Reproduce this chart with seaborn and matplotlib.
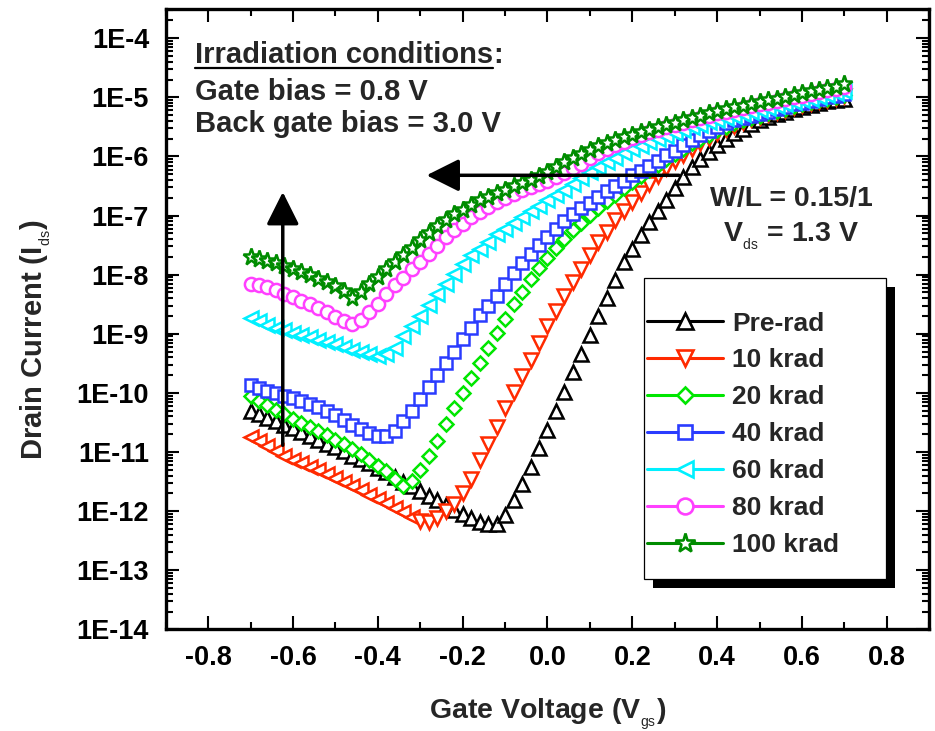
# Id-Vg curves of an SOI nMOSFET after irradiation, log scale, open markers.
import numpy as np
import pandas as pd
import seaborn as sns
import matplotlib
matplotlib.use("Agg")
import matplotlib.pyplot as plt
from matplotlib.lines import Line2D
from matplotlib.patches import Rectangle
from matplotlib.ticker import LogLocator, FuncFormatter, MultipleLocator, NullFormatter

# gate voltage sweep (V)
vgs = [-0.70, -0.68, -0.66, -0.64, -0.62, -0.60, -0.58, -0.56, -0.54, -0.52,
       -0.50, -0.48, -0.46, -0.44, -0.42, -0.40, -0.38, -0.36, -0.34, -0.32,
       -0.30, -0.28, -0.26, -0.24, -0.22, -0.20, -0.18, -0.16, -0.14, -0.12,
       -0.10, -0.08, -0.06, -0.04, -0.02, 0.00, 0.02, 0.04, 0.06, 0.08,
       0.10, 0.12, 0.14, 0.16, 0.18, 0.20, 0.22, 0.24, 0.26, 0.28,
       0.30, 0.32, 0.34, 0.36, 0.38, 0.40, 0.42, 0.44, 0.46, 0.48,
       0.50, 0.52, 0.54, 0.56, 0.58, 0.60, 0.62, 0.64, 0.66, 0.68, 0.70]

# log10 of drain current (A)
log_pre_rad = [-10.30, -10.36, -10.42, -10.48, -10.54, -10.60, -10.66, -10.73, -10.79, -10.86,
               -10.92, -10.99, -11.06, -11.12, -11.19, -11.27, -11.34, -11.42, -11.50, -11.58,
               -11.66, -11.74, -11.82, -11.90, -11.98, -12.05, -12.12, -12.18, -12.21, -12.21,
               -12.06, -11.82, -11.54, -11.25, -10.94, -10.63, -10.30, -9.98, -9.64, -9.34,
               -9.02, -8.70, -8.40, -8.09, -7.79, -7.56, -7.33, -7.11, -6.92, -6.73,
               -6.53, -6.35, -6.18, -6.05, -5.93, -5.81, -5.70, -5.61, -5.53, -5.45,
               -5.38, -5.33, -5.28, -5.24, -5.20, -5.16, -5.13, -5.10, -5.07, -5.04, -5.02]
log_10krad = [-10.74, -10.82, -10.90, -10.99, -11.06, -11.13, -11.19, -11.25, -11.31, -11.37,
              -11.44, -11.51, -11.58, -11.65, -11.72, -11.80, -11.87, -11.94, -12.02, -12.10,
              -12.16, -12.19, -12.12, -12.00, -11.88, -11.69, -11.45, -11.14, -10.87, -10.57,
              -10.26, -9.98, -9.71, -9.44, -9.16, -8.87, -8.61, -8.36, -8.13, -7.90,
              -7.66, -7.45, -7.27, -7.08, -6.92, -6.77, -6.62, -6.47, -6.33, -6.20,
              -6.08, -5.97, -5.87, -5.78, -5.69, -5.61, -5.54, -5.48, -5.42, -5.37,
              -5.33, -5.29, -5.25, -5.21, -5.17, -5.13, -5.10, -5.07, -5.04, -5.01, -4.98]
log_20krad = [-10.06, -10.13, -10.21, -10.29, -10.36, -10.44, -10.51, -10.58, -10.65, -10.72,
              -10.79, -10.87, -10.95, -11.04, -11.14, -11.23, -11.32, -11.46, -11.58, -11.49,
              -11.30, -11.06, -10.81, -10.53, -10.26, -10.01, -9.75, -9.50, -9.24, -8.98,
              -8.75, -8.50, -8.29, -8.08, -7.88, -7.71, -7.55, -7.40, -7.25, -7.12,
              -6.99, -6.87, -6.76, -6.65, -6.54, -6.43, -6.33, -6.23, -6.14, -6.05,
              -5.96, -5.87, -5.78, -5.70, -5.63, -5.56, -5.50, -5.44, -5.39, -5.35,
              -5.31, -5.27, -5.23, -5.19, -5.15, -5.11, -5.08, -5.05, -5.02, -4.99, -4.96]
log_40krad = [-9.87, -9.91, -9.96, -10.01, -10.05, -10.09, -10.13, -10.18, -10.24, -10.31,
              -10.38, -10.46, -10.54, -10.61, -10.68, -10.73, -10.73, -10.65, -10.48, -10.31,
              -10.10, -9.90, -9.70, -9.50, -9.31, -9.08, -8.90, -8.68, -8.53, -8.36,
              -8.16, -7.97, -7.80, -7.65, -7.49, -7.36, -7.22, -7.09, -6.97, -6.88,
              -6.78, -6.68, -6.59, -6.50, -6.41, -6.32, -6.25, -6.16, -6.07, -5.98,
              -5.90, -5.81, -5.72, -5.64, -5.57, -5.50, -5.44, -5.39, -5.35, -5.31,
              -5.28, -5.24, -5.20, -5.16, -5.12, -5.09, -5.06, -5.03, -5.00, -4.97, -4.94]
log_60krad = [-8.73, -8.79, -8.85, -8.90, -8.94, -8.98, -9.02, -9.06, -9.10, -9.14,
              -9.18, -9.22, -9.27, -9.31, -9.35, -9.37, -9.34, -9.24, -9.04, -8.87,
              -8.70, -8.51, -8.33, -8.16, -7.99, -7.82, -7.67, -7.56, -7.44, -7.32,
              -7.23, -7.13, -7.03, -6.93, -6.83, -6.73, -6.65, -6.56, -6.46, -6.37,
              -6.27, -6.18, -6.10, -6.02, -5.95, -5.88, -5.82, -5.76, -5.71, -5.66,
              -5.61, -5.56, -5.51, -5.46, -5.42, -5.38, -5.35, -5.31, -5.28, -5.25,
              -5.22, -5.18, -5.15, -5.12, -5.08, -5.05, -5.02, -4.99, -4.96, -4.93, -4.90]
log_80krad = [-8.15, -8.17, -8.21, -8.26, -8.32, -8.38, -8.44, -8.50, -8.57, -8.64,
              -8.71, -8.78, -8.83, -8.76, -8.64, -8.49, -8.32, -8.18, -8.06, -7.91,
              -7.78, -7.65, -7.51, -7.37, -7.25, -7.14, -7.03, -6.94, -6.85, -6.77,
              -6.70, -6.63, -6.57, -6.52, -6.46, -6.41, -6.35, -6.28, -6.20, -6.12,
              -6.02, -5.95, -5.88, -5.81, -5.75, -5.69, -5.64, -5.59, -5.55, -5.51,
              -5.47, -5.43, -5.39, -5.35, -5.31, -5.27, -5.24, -5.21, -5.18, -5.15,
              -5.12, -5.09, -5.06, -5.03, -5.00, -4.97, -4.94, -4.91, -4.88, -4.86, -4.83]
log_100krad = [-7.70, -7.73, -7.77, -7.81, -7.85, -7.90, -7.95, -8.01, -8.07, -8.13,
               -8.20, -8.28, -8.39, -8.30, -8.16, -8.04, -7.91, -7.79, -7.67, -7.55,
               -7.42, -7.30, -7.18, -7.07, -6.98, -6.90, -6.82, -6.74, -6.68, -6.62,
               -6.56, -6.50, -6.45, -6.40, -6.33, -6.26, -6.18, -6.10, -6.03, -5.96,
               -5.89, -5.83, -5.77, -5.72, -5.67, -5.63, -5.59, -5.55, -5.51, -5.47,
               -5.43, -5.39, -5.35, -5.31, -5.27, -5.23, -5.20, -5.17, -5.14, -5.11,
               -5.08, -5.05, -5.02, -4.99, -4.96, -4.93, -4.90, -4.88, -4.85, -4.82, -4.78]

labels = ["Pre-rad", "10 krad", "20 krad", "40 krad", "60 krad", "80 krad", "100 krad"]
series = [log_pre_rad, log_10krad, log_20krad, log_40krad, log_60krad, log_80krad, log_100krad]

# styling
colors = ["#000000", "#ff2a00", "#00e600", "#2a3cff", "#00f0ff", "#ff40ff", "#008c00"]
markers = ["^", "v", "D", "s", "<", "o", "*"]
msizes = [10.0, 10.0, 7.0, 8.5, 10.0, 9.5, 12.5]
# in the original, the low-Vg part of these two curves was drawn with '<'
left_marker_below = {"10 krad": -0.31, "60 krad": -0.41}

sns.set_theme(style="ticks")
plt.rcParams["font.family"] = ["Liberation Sans", "DejaVu Sans"]
plt.rcParams.update({
    "font.weight": "bold",
    "axes.labelweight": "bold",
    "axes.unicode_minus": False,
    "mathtext.fontset": "custom",
    "mathtext.rm": "Liberation Sans:bold",
    "mathtext.bf": "Liberation Sans:bold",
    "mathtext.sf": "Liberation Sans:regular",
})

fig = plt.figure(figsize=(9.35, 7.31), dpi=100)
ax = fig.add_axes([0.1772, 0.1391, 0.8167, 0.849])

for name, logs, c, m, ms in zip(labels, series, colors, markers, msizes):
    df = pd.DataFrame({"Vgs": vgs, "Ids": 10.0 ** np.array(logs)})
    style = dict(color=c, linestyle="none", markersize=ms, markeredgewidth=1.8,
                 markerfacecolor="white", markeredgecolor=c)
    if name in left_marker_below:
        low = df["Vgs"] < left_marker_below[name]
        sns.lineplot(data=df[low], x="Vgs", y="Ids", marker="<", estimator=None,
                     ax=ax, legend=False, **style)
        sns.lineplot(data=df[~low], x="Vgs", y="Ids", marker=m, estimator=None,
                     ax=ax, legend=False, **style)
    else:
        sns.lineplot(data=df, x="Vgs", y="Ids", marker=m, estimator=None,
                     ax=ax, legend=False, **style)

ax.set_yscale("log")
ax.set_xlim(-0.9, 0.9)
ax.set_ylim(1e-14, 3.16e-4)

ax.xaxis.set_major_locator(MultipleLocator(0.2))
ax.xaxis.set_minor_locator(MultipleLocator(0.1))
ax.xaxis.set_major_formatter(FuncFormatter(lambda v, p: f"{round(v, 1) + 0.0:.1f}"))
ax.yaxis.set_major_locator(LogLocator(base=10, numticks=30))
ax.yaxis.set_minor_locator(LogLocator(base=10, subs=np.arange(2, 10), numticks=30))
ax.yaxis.set_major_formatter(FuncFormatter(lambda v, p: f"1E{int(round(np.log10(v)))}"))
ax.yaxis.set_minor_formatter(NullFormatter())

ax.tick_params(which="both", direction="in", top=True, right=True, width=1.5, colors="black")
ax.tick_params(which="major", length=9.5, labelsize=19.5)
ax.tick_params(which="minor", length=5)
ax.tick_params(axis="x", which="major", pad=11.5)
ax.tick_params(axis="y", which="major", pad=12)
for lab in ax.get_xticklabels() + ax.get_yticklabels():
    lab.set_fontweight("bold")
for sp in ax.spines.values():
    sp.set_linewidth(2.4)
    sp.set_color("black")

ax.set_xlabel("Gate Voltage (V$_{_{\\mathsf{gs}}}$)", fontsize=20.5, fontweight="bold", labelpad=18)
ax.set_ylabel("Drain Current (I$_{_{\\mathsf{ds}}}$)", fontsize=21, fontweight="bold", labelpad=17)
ax.yaxis.label.set_y(0.466)

# arrows
arrow_kw = dict(arrowstyle="-|>,head_length=2.0,head_width=1.0", mutation_scale=10,
                color="black", lw=2.5, shrinkA=0, shrinkB=0)
ax.annotate("", xy=(-0.285, 4.8e-7), xytext=(0.31, 4.8e-7), arrowprops=arrow_kw)
ax.annotate("", xy=(-0.624, 2.5e-7), xytext=(-0.624, 1.3e-11), arrowprops=arrow_kw)

# irradiation conditions text
txt_kw = dict(transform=ax.transAxes, fontsize=21, fontweight="bold", va="baseline")
t_head = ax.text(0.0384, 0.9125, "Irradiation conditions", **txt_kw)
ax.annotate(":", xy=(1, 0), xycoords=t_head, ha="left", va="bottom",
            fontsize=21, fontweight="bold")
ax.text(0.0384, 0.853, "Gate bias = 0.8 V", **txt_kw)
ax.text(0.0384, 0.801, "Back gate bias = 3.0 V", **txt_kw)
txt_kw["fontsize"] = 20.5
ax.text(0.819, 0.682, "W/L = 0.15/1", ha="center", **txt_kw)
ax.text(0.819, 0.6246, "V$_{_{\\mathsf{ds}}}$ = 1.3 V", ha="center", **txt_kw)

# legend with a hard black drop shadow
w, h = 0.316, 0.485
ax.add_patch(Rectangle((0.627 + 9 / 763.6, 0.0806 - 9 / 620.6), w, h, transform=ax.transAxes,
                       facecolor="black", edgecolor="none", zorder=4.8, clip_on=False))
ax.add_patch(Rectangle((0.627, 0.0806), w, h, transform=ax.transAxes,
                       facecolor="white", edgecolor="black", lw=0.9, zorder=4.9))
handles = [Line2D([], [], color=c, marker=m, lw=2.2, markersize=ms * 1.2, markeredgewidth=1.9,
                  markerfacecolor="white", markeredgecolor=c)
           for c, m, ms in zip(colors, markers, msizes)]
leg = ax.legend(handles, labels, loc="upper left", bbox_to_anchor=(0.630, 0.512),
                frameon=False, borderpad=0, borderaxespad=0, handlelength=2.88,
                handletextpad=0.35, labelspacing=0.49, prop={"size": 19, "weight": "bold"})
leg.set_zorder(6)

# underline for the heading
fig.canvas.draw()
bb = t_head.get_window_extent()
inv = fig.transFigure.inverted()
(x0, y0), (x1, _) = inv.transform([(bb.x0, bb.y0 + 1), (bb.x1, bb.y0 + 1)])
fig.add_artist(Line2D([x0, x1], [y0, y0], color="black", lw=1.6, transform=fig.transFigure))

fig.savefig("out.png", dpi=100)
